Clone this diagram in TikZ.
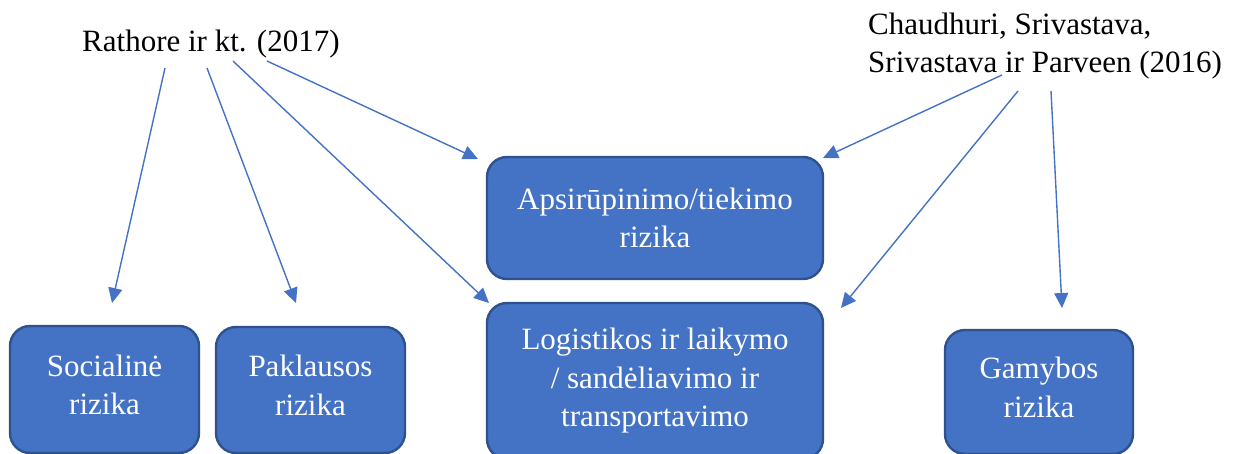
\documentclass[tikz,border=0pt]{standalone}
\usepackage{fontspec}
\setmainfont{Liberation Serif}
\usetikzlibrary{arrows.meta}
\definecolor{boxfill}{HTML}{4472C4}
\definecolor{boxline}{HTML}{2F528F}
\definecolor{arrowc}{HTML}{4472C4}
\tikzset{
  riskbox/.style={draw=boxline, line width=2.4pt, fill=boxfill, rectangle, rounded corners=20pt,
    text=white, align=center, inner sep=0pt,
    font=\fontsize{31}{38.5}\selectfont},
  src/.style={text=black, inner sep=0pt, align=left, font=\fontsize{31}{38.5}\selectfont},
  link/.style={draw=arrowc, line width=1.4pt, -{Triangle[length=15pt,width=14pt]}}
}
\begin{document}
\begin{tikzpicture}[x=1pt,y=-1pt]
\useasboundingbox (0,0) rectangle (1237,454);
\clip (0,0) rectangle (1237,454);
% sources
\node[src, anchor=base west] (rat) at (82,52) {Rathore ir kt. (2017)};
\node[src, anchor=base west] (cha) at (868,73) {Chaudhuri, Srivastava,\\Srivastava ir Parveen (2016)};
% boxes
\node[riskbox, minimum width=189pt, minimum height=127pt, text depth=10pt] (soc) at (104.5,389.5) {Socialinė\\rizika};
\node[riskbox, minimum width=189pt, minimum height=126pt, text depth=10pt] (pak) at (310.5,390) {Paklausos\\rizika};
\node[riskbox, minimum width=336pt, minimum height=122pt] (aps) at (655,218) {Apsirūpinimo/tiekimo\\rizika};
\node[riskbox, minimum width=336pt, minimum height=156pt] (log) at (655,381) {Logistikos ir laikymo\\/ sandėliavimo ir\\transportavimo};
\node[riskbox, minimum width=188pt, minimum height=124pt, text depth=10pt] (gam) at (1039,392) {Gamybos\\rizika};
% connector ends
\coordinate (r1) at (165,68);  \coordinate (t1) at (112,303);
\coordinate (r2) at (207,68);  \coordinate (t2) at (296,303);
\coordinate (r3) at (233,61);  \coordinate (t3) at (489,303);
\coordinate (r4) at (267,61);  \coordinate (t4) at (478,159);
\coordinate (c1) at (1002,75); \coordinate (u1) at (823,158);
\coordinate (c2) at (1018,91); \coordinate (u2) at (841,308);
\coordinate (c3) at (1051,91); \coordinate (u3) at (1062,308);
\draw[link] (r1) -- (t1);
\draw[link] (r2) -- (t2);
\draw[link] (r3) -- (t3);
\draw[link] (r4) -- (t4);
\draw[link] (c1) -- (u1);
\draw[link] (c2) -- (u2);
\draw[link] (c3) -- (u3);
\end{tikzpicture}
\end{document}
